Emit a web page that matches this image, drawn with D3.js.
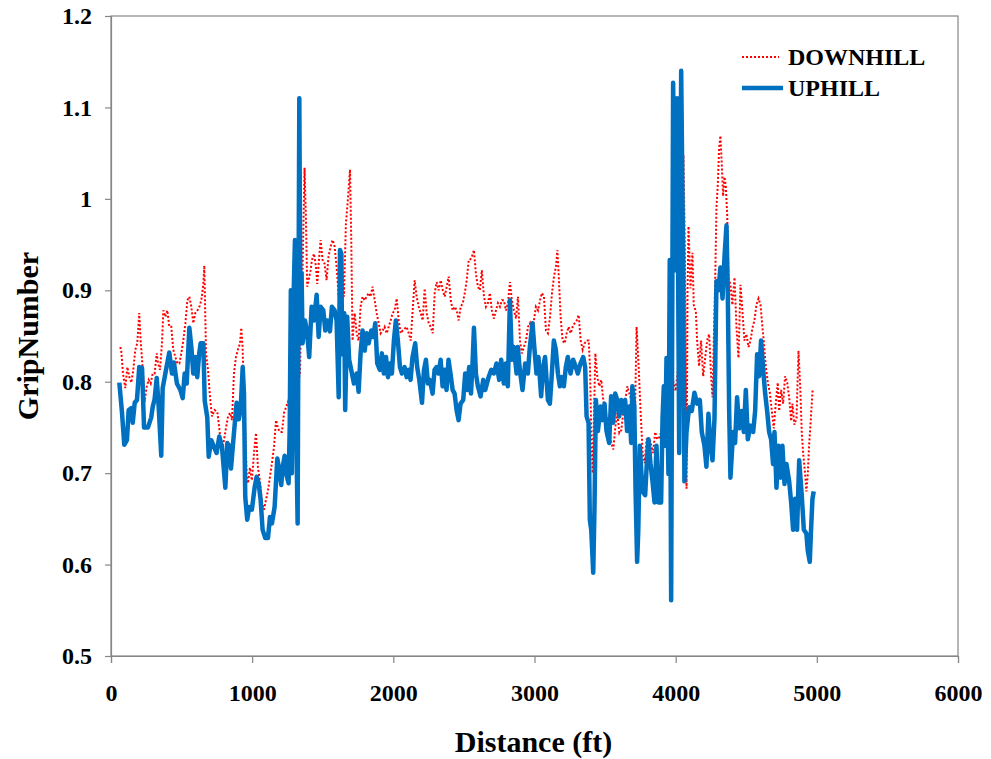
<!DOCTYPE html>
<html>
<head>
<meta charset="utf-8">
<script src="https://cdn.jsdelivr.net/npm/d3@7"></script>
<style>
  body { margin: 0; background: #fff; }
  svg { display: block; }
</style>
</head>
<body>
<script>
// Chart settings
const width = 991;
const height = 759;
const margin = { top: 16, right: 33, bottom: 103, left: 111 };
const font = "'Liberation Serif', 'Times New Roman', serif";
const axisColor = '#868686';

// Data: [distance (ft), grip number]
const xTicks = [0, 1000, 2000, 3000, 4000, 5000, 6000];
const yTicks = [0.5, 0.6, 0.7, 0.8, 0.9, 1, 1.1, 1.2];
const seriesNames = ['DOWNHILL', 'UPHILL'];

const uphill = [
  [59,0.799],[78,0.766],[94,0.731],[113,0.736],[125,0.769],[144,0.771],[154,0.755],[168,0.777],[184,0.78],[200,0.816],
  [220,0.815],[234,0.75],[262,0.75],[285,0.761],[295,0.772],[309,0.781],[324,0.804],[338,0.772],[356,0.719],[366,0.793],
  [385,0.809],[413,0.832],[432,0.809],[446,0.821],[467,0.798],[491,0.791],[508,0.782],[522,0.809],[536,0.798],[555,0.859],
  [569,0.838],[583,0.809],[597,0.827],[611,0.805],[625,0.831],[635,0.842],[654,0.842],[664,0.779],[682,0.761],[692,0.718],
  [710,0.736],[729,0.729],[748,0.722],[767,0.74],[786,0.729],[810,0.684],[824,0.733],[838,0.73],[850,0.705],[871,0.744],
  [890,0.777],[905,0.759],[918,0.769],[933,0.816],[942,0.787],[951,0.674],[965,0.649],[979,0.663],[998,0.66],[1018,0.685],
  [1032,0.696],[1046,0.689],[1060,0.671],[1074,0.638],[1093,0.629],[1112,0.629],[1126,0.652],[1140,0.645],[1159,0.663],[1178,0.716],
  [1192,0.704],[1206,0.687],[1216,0.706],[1230,0.719],[1240,0.7],[1258,0.689],[1266,0.75],[1274,0.9],[1281,0.7],[1290,0.87],
  [1303,0.955],[1312,0.75],[1322,0.645],[1334,1.11],[1342,0.86],[1350,0.919],[1357,0.842],[1374,0.867],[1390,0.853],[1404,0.827],
  [1421,0.882],[1438,0.867],[1457,0.895],[1471,0.849],[1485,0.882],[1504,0.878],[1518,0.856],[1532,0.867],[1551,0.855],[1565,0.882],
  [1584,0.878],[1598,0.867],[1613,0.783],[1622,0.944],[1632,0.94],[1637,0.83],[1652,0.875],[1659,0.769],[1673,0.871],[1687,0.824],
  [1707,0.809],[1721,0.798],[1740,0.809],[1754,0.789],[1768,0.831],[1782,0.856],[1797,0.834],[1811,0.853],[1825,0.842],[1844,0.856],
  [1858,0.849],[1872,0.864],[1886,0.82],[1905,0.813],[1919,0.831],[1933,0.809],[1948,0.827],[1962,0.805],[1976,0.82],[1990,0.809],
  [2004,0.845],[2018,0.867],[2032,0.845],[2047,0.816],[2061,0.809],[2080,0.816],[2094,0.805],[2108,0.813],[2122,0.802],[2136,0.827],
  [2155,0.842],[2169,0.816],[2184,0.802],[2203,0.777],[2217,0.813],[2231,0.824],[2245,0.798],[2259,0.802],[2278,0.787],[2292,0.813],
  [2306,0.816],[2320,0.809],[2335,0.824],[2349,0.795],[2363,0.813],[2377,0.791],[2391,0.824],[2405,0.809],[2420,0.791],[2434,0.787],
  [2448,0.769],[2462,0.758],[2476,0.776],[2495,0.78],[2509,0.809],[2523,0.791],[2537,0.816],[2550,0.787],[2560,0.816],[2571,0.859],
  [2585,0.809],[2599,0.795],[2618,0.784],[2637,0.802],[2651,0.791],[2675,0.805],[2694,0.813],[2712,0.809],[2731,0.82],[2750,0.802],
  [2764,0.824],[2783,0.798],[2797,0.82],[2811,0.795],[2826,0.889],[2840,0.824],[2854,0.838],[2873,0.809],[2882,0.838],[2896,0.813],
  [2915,0.791],[2934,0.82],[2953,0.809],[2967,0.838],[2986,0.864],[3000,0.835],[3014,0.809],[3028,0.827],[3047,0.784],[3061,0.816],
  [3075,0.827],[3095,0.78],[3109,0.776],[3123,0.809],[3137,0.845],[3151,0.835],[3166,0.809],[3180,0.795],[3194,0.805],[3208,0.795],
  [3222,0.816],[3236,0.827],[3255,0.809],[3274,0.824],[3293,0.816],[3307,0.809],[3326,0.82],[3345,0.827],[3359,0.816],[3369,0.762],
  [3383,0.755],[3392,0.649],[3402,0.638],[3416,0.591],[3425,0.663],[3435,0.78],[3449,0.746],[3468,0.773],[3482,0.758],[3496,0.776],
  [3510,0.746],[3529,0.733],[3543,0.784],[3557,0.755],[3572,0.787],[3586,0.78],[3600,0.762],[3614,0.78],[3628,0.766],[3642,0.78],
  [3656,0.746],[3671,0.773],[3685,0.733],[3693,0.795],[3707,0.773],[3716,0.68],[3727,0.603],[3735,0.636],[3746,0.73],[3765,0.68],
  [3784,0.676],[3798,0.718],[3807,0.737],[3822,0.71],[3836,0.691],[3850,0.668],[3864,0.73],[3878,0.668],[3897,0.668],[3907,0.76],
  [3916,0.795],[3925,0.73],[3935,0.826],[3949,0.699],[3958,0.933],[3968,0.561],[3982,1.127],[3996,0.922],[4010,1.11],[4025,0.722],
  [4039,1.14],[4053,0.929],[4062,0.691],[4077,0.745],[4095,0.772],[4114,0.768],[4133,0.788],[4152,0.776],[4171,0.78],[4185,0.745],
  [4204,0.73],[4218,0.707],[4232,0.765],[4247,0.73],[4261,0.714],[4275,0.76],[4289,0.91],[4303,0.9],[4317,0.925],[4332,0.891],
  [4346,0.937],[4360,0.971],[4369,0.9],[4379,0.768],[4388,0.695],[4407,0.745],[4421,0.733],[4435,0.783],[4450,0.749],[4468,0.768],
  [4483,0.745],[4497,0.791],[4511,0.737],[4530,0.752],[4549,0.745],[4563,0.768],[4577,0.83],[4591,0.806],[4605,0.845],[4620,0.813],
  [4634,0.787],[4648,0.768],[4662,0.745],[4676,0.737],[4690,0.71],[4700,0.745],[4714,0.684],[4728,0.73],[4742,0.695],[4756,0.73],
  [4771,0.688],[4785,0.71],[4804,0.691],[4818,0.668],[4832,0.638],[4846,0.672],[4860,0.638],[4875,0.714],[4893,0.676],[4908,0.638],
  [4926,0.634],[4936,0.615],[4950,0.603],[4959,0.638],[4969,0.672],[4978,0.68]
];

const downhill = [
  [66,0.838],[73,0.833],[85,0.809],[101,0.793],[116,0.816],[130,0.805],[144,0.799],[158,0.813],[172,0.835],[186,0.842],
  [200,0.875],[210,0.845],[224,0.816],[238,0.778],[252,0.794],[267,0.802],[281,0.798],[295,0.809],[309,0.809],[324,0.831],
  [333,0.82],[347,0.813],[361,0.842],[371,0.878],[385,0.871],[399,0.878],[413,0.86],[427,0.86],[441,0.835],[456,0.827],
  [470,0.82],[484,0.82],[498,0.831],[512,0.845],[527,0.864],[541,0.889],[555,0.893],[569,0.882],[583,0.864],[597,0.875],
  [612,0.878],[626,0.882],[640,0.889],[654,0.907],[661,0.927],[673,0.831],[687,0.813],[701,0.784],[715,0.762],[734,0.769],
  [753,0.767],[767,0.749],[786,0.722],[800,0.736],[814,0.749],[829,0.762],[843,0.766],[857,0.758],[871,0.809],[885,0.827],
  [899,0.835],[914,0.842],[923,0.859],[932,0.838],[942,0.787],[951,0.745],[961,0.7],[970,0.689],[984,0.706],[998,0.692],
  [1013,0.722],[1027,0.744],[1041,0.706],[1055,0.692],[1070,0.667],[1084,0.66],[1098,0.671],[1112,0.681],[1126,0.696],[1140,0.711],
  [1155,0.729],[1169,0.758],[1183,0.749],[1197,0.745],[1211,0.745],[1226,0.766],[1240,0.772],[1254,0.778],[1268,0.766],[1285,0.78],
  [1305,0.79],[1325,0.8],[1339,0.809],[1343,0.844],[1357,0.922],[1371,1.034],[1381,0.977],[1390,0.904],[1400,0.911],[1414,0.922],
  [1423,0.933],[1438,0.94],[1452,0.926],[1461,0.907],[1475,0.937],[1485,0.955],[1499,0.933],[1513,0.929],[1527,0.911],[1541,0.937],
  [1556,0.948],[1570,0.955],[1584,0.948],[1598,0.926],[1613,0.893],[1627,0.926],[1641,0.919],[1650,0.893],[1664,0.973],[1678,0.999],
  [1693,1.032],[1702,0.955],[1711,0.845],[1726,0.875],[1740,0.853],[1754,0.845],[1768,0.882],[1782,0.893],[1797,0.889],[1811,0.893],
  [1825,0.897],[1839,0.893],[1853,0.904],[1868,0.889],[1882,0.875],[1896,0.864],[1910,0.853],[1924,0.856],[1938,0.86],[1953,0.853],
  [1967,0.86],[1981,0.867],[1995,0.875],[2009,0.878],[2024,0.891],[2038,0.867],[2052,0.853],[2066,0.856],[2080,0.858],[2094,0.86],
  [2109,0.853],[2123,0.845],[2137,0.878],[2151,0.911],[2165,0.893],[2180,0.882],[2194,0.875],[2208,0.867],[2222,0.902],[2236,0.875],
  [2251,0.864],[2265,0.86],[2279,0.853],[2293,0.897],[2307,0.909],[2321,0.9],[2336,0.911],[2350,0.9],[2364,0.893],[2378,0.904],
  [2392,0.915],[2407,0.889],[2421,0.878],[2435,0.882],[2449,0.878],[2463,0.867],[2477,0.882],[2492,0.886],[2506,0.897],[2520,0.911],
  [2534,0.933],[2542,0.933],[2557,0.937],[2571,0.944],[2585,0.918],[2599,0.904],[2613,0.9],[2627,0.922],[2642,0.893],[2656,0.882],
  [2670,0.886],[2684,0.897],[2698,0.878],[2712,0.869],[2727,0.878],[2741,0.886],[2755,0.882],[2769,0.889],[2783,0.889],[2798,0.878],
  [2812,0.886],[2826,0.909],[2840,0.889],[2854,0.878],[2869,0.869],[2883,0.893],[2897,0.845],[2911,0.831],[2925,0.838],[2940,0.845],
  [2954,0.86],[2968,0.864],[2982,0.853],[2996,0.867],[3010,0.882],[3025,0.878],[3039,0.889],[3053,0.897],[3067,0.893],[3081,0.856],
  [3095,0.853],[3110,0.871],[3124,0.897],[3138,0.915],[3152,0.926],[3162,0.944],[3171,0.918],[3185,0.871],[3199,0.845],[3214,0.842],
  [3228,0.853],[3242,0.86],[3256,0.853],[3270,0.86],[3284,0.864],[3299,0.867],[3313,0.873],[3327,0.845],[3341,0.835],[3355,0.842],
  [3369,0.845],[3384,0.845],[3393,0.816],[3402,0.744],[3412,0.7],[3421,0.762],[3431,0.831],[3445,0.805],[3459,0.795],[3473,0.802],
  [3487,0.78],[3502,0.769],[3516,0.755],[3530,0.744],[3544,0.733],[3558,0.726],[3573,0.751],[3587,0.766],[3601,0.744],[3615,0.747],
  [3629,0.766],[3643,0.78],[3658,0.795],[3672,0.787],[3686,0.78],[3695,0.751],[3709,0.737],[3723,0.86],[3738,0.816],[3752,0.766],
  [3766,0.722],[3780,0.711],[3794,0.737],[3817,0.737],[3840,0.722],[3855,0.745],[3869,0.737],[3890,0.74],[3915,0.76],[3940,0.75],
  [3960,0.78],[3985,0.8],[4000,0.79],[4020,0.82],[4040,0.96],[4055,1.048],[4065,0.95],[4077,0.683],[4084,0.9],[4091,0.97],
  [4105,0.902],[4119,0.941],[4128,0.884],[4143,0.877],[4152,0.845],[4166,0.817],[4180,0.845],[4195,0.806],[4209,0.826],[4223,0.845],
  [4237,0.852],[4251,0.806],[4261,0.783],[4270,0.845],[4280,0.91],[4289,0.991],[4298,1.014],[4308,1.056],[4317,1.069],[4327,1.037],
  [4336,1.003],[4346,1.024],[4355,1.014],[4365,0.983],[4374,0.914],[4388,0.906],[4402,0.884],[4417,0.914],[4431,0.859],[4445,0.826],
  [4459,0.906],[4473,0.877],[4487,0.845],[4501,0.852],[4516,0.838],[4530,0.845],[4544,0.859],[4558,0.867],[4572,0.884],[4587,0.891],
  [4601,0.884],[4615,0.859],[4624,0.845],[4638,0.817],[4653,0.799],[4667,0.788],[4681,0.768],[4695,0.749],[4709,0.776],[4723,0.799],
  [4733,0.768],[4747,0.791],[4761,0.776],[4775,0.806],[4790,0.799],[4804,0.783],[4818,0.757],[4827,0.776],[4841,0.753],[4856,0.76],
  [4870,0.834],[4884,0.788],[4893,0.745],[4903,0.722],[4917,0.699],[4926,0.68],[4936,0.699],[4945,0.73],[4955,0.753],[4970,0.791]
];

// SVG
const svg = d3.select('body')
              .append('svg')
              .attr('width', width)
              .attr('height', height)
              .style('font-family', font)

// Scales
const x = d3.scaleLinear()
            .domain([0, 6000])
            .range([margin.left, width - margin.right])

const y = d3.scaleLinear()
            .domain([0.5, 1.2])
            .range([height - margin.bottom, margin.top])

// Plot frame (top and right)
svg.append('rect')
   .attr('x', x(0))
   .attr('y', y(1.2))
   .attr('width', x(6000) - x(0))
   .attr('height', y(0.5) - y(1.2))
   .attr('fill', 'none')
   .attr('stroke', axisColor)
   .attr('stroke-width', 1.2)

// Axes
const xAxis = svg.append('g')
   .attr('transform', `translate(0, ${y(0.5)})`)
   .call(d3.axisBottom(x).tickValues(xTicks).tickFormat(d3.format('d')).tickSizeOuter(0).tickSize(7).tickPadding(21))

const yAxis = svg.append('g')
   .attr('transform', `translate(${x(0)}, 0)`)
   .call(d3.axisLeft(y).tickValues(yTicks).tickFormat(d => d3.format('')(+d.toFixed(1))).tickSizeOuter(0).tickSize(6).tickPadding(13))

for (const g of [xAxis, yAxis]) {
  g.selectAll('path, line').attr('stroke', axisColor).attr('stroke-width', 1.2)
  g.selectAll('text')
   .attr('fill', '#000')
   .style('font-family', font)
   .style('font-size', '24px')
   .style('font-weight', 'bold')
}

// Lines
const line = d3.line()
               .x(d => x(d[0]))
               .y(d => y(d[1]))

svg.append('path')
   .datum(downhill)
   .attr('fill', 'none')
   .attr('stroke', '#ff0000')
   .attr('stroke-width', 2)
   .attr('stroke-dasharray', '2,2')
   .attr('d', line)

svg.append('path')
   .datum(uphill)
   .attr('fill', 'none')
   .attr('stroke', '#0070c0')
   .attr('stroke-width', 4.5)
   .attr('stroke-linejoin', 'round')
   .attr('d', line)

// Legend
const legend = svg.append('g').attr('font-weight', 'bold').attr('font-size', 24)
legend.append('line')
      .attr('x1', 742).attr('x2', 779).attr('y1', 57).attr('y2', 57)
      .attr('stroke', '#ff0000').attr('stroke-width', 2).attr('stroke-dasharray', '2,2')
legend.append('line')
      .attr('x1', 742).attr('x2', 783).attr('y1', 88).attr('y2', 88)
      .attr('stroke', '#0070c0').attr('stroke-width', 4.5)
legend.selectAll('text')
      .data(seriesNames)
      .enter()
      .append('text')
      .attr('x', 788)
      .attr('y', (d, i) => 57 + i * 31)
      .attr('dy', '0.35em')
      .text(d => d)

// Axis titles
svg.append('text')
   .attr('x', (x(0) + x(6000)) / 2 - 1)
   .attr('y', 752)
   .attr('text-anchor', 'middle')
   .attr('font-weight', 'bold')
   .attr('font-size', 30)
   .text('Distance (ft)')

svg.append('text')
   .attr('transform', `translate(38, ${(y(0.5) + y(1.2)) / 2}) rotate(-90)`)
   .attr('text-anchor', 'middle')
   .attr('font-weight', 'bold')
   .attr('font-size', 30)
   .text('GripNumber')
</script>
</body>
</html>
